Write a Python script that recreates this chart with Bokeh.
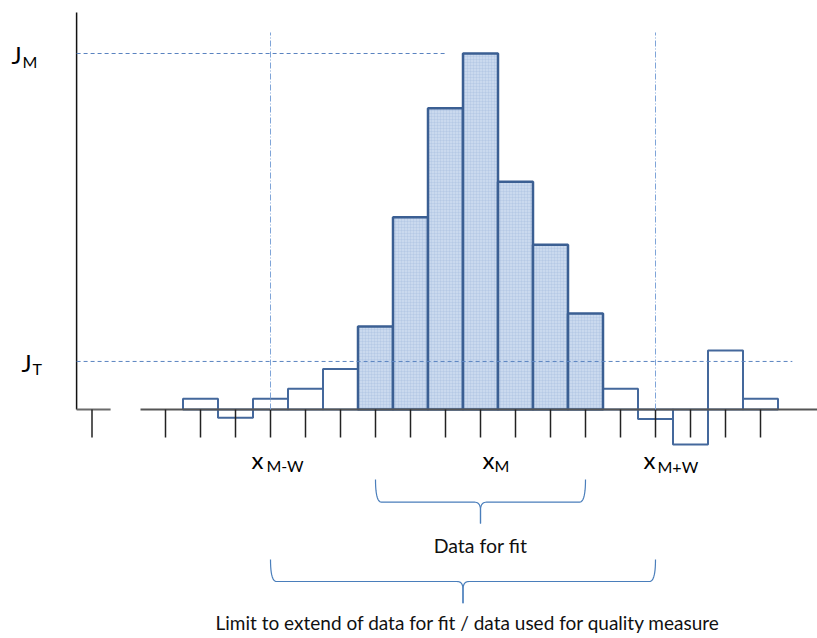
import numpy as np
from bokeh.plotting import figure
from bokeh.models import Range1d, ColumnDataSource
from bokeh.core.properties import value
from bokeh.embed import file_html
from bokeh.resources import INLINE

# ---------------- data ----------------
bins = list(range(17))                      # histogram bin index
counts = [3.0, -2.3, 3.0, 5.8, 11.4, 23.3, 54.0, 84.6, 100.0,
          64.0, 46.3, 27.0, 5.8, -2.7, -9.8, 16.6, 3.0]
fit_first, fit_last = 5, 11                 # bins used for the fit (shaded)
J_M = 100.0                                 # maximum
J_T = 13.5                                  # threshold
x_M = 8                                     # bin of maximum
x_MW_lo = 2                                 # x_{M-W}
x_MW_hi = 13                                # x_{M+W}
tick_bins = list(range(-1, 17))
extra_tick = -3.1
y_axis_x = -3.54
axis_top = 111.5

# ---------------- scales ----------------
PX_X = 35.0     # pixels per bin
PX_Y = 3.56     # pixels per J unit
W, H = 817, 638
X0_PX, Y0_PX = 200.0, 409.0     # pixel position of bin 0 / J=0

def dy(px):     # pixel distance below baseline -> data y
    return -px / PX_Y

def dx(px):
    return px / PX_X

p = figure(width=W, height=H, output_backend="svg", toolbar_location=None,
           x_range=Range1d(-X0_PX / PX_X, (W - X0_PX) / PX_X),
           y_range=Range1d((Y0_PX - H) / PX_Y, Y0_PX / PX_Y),
           x_axis_location=None, y_axis_location=None, min_border=0,
           outline_line_color=None, background_fill_color="white",
           border_fill_color="white")
p.grid.visible = False

FONT = value("Lato")

# ---------------- bars ----------------
b = np.array(bins)
c = np.array(counts)
shaded = (b >= fit_first) & (b <= fit_last)
src_plain = ColumnDataSource(dict(left=b[~shaded] - 0.5, right=b[~shaded] + 0.5,
                                  top=c[~shaded], bottom=np.zeros((~shaded).sum())))
src_fit = ColumnDataSource(dict(left=b[shaded] - 0.5, right=b[shaded] + 0.5,
                                top=c[shaded], bottom=np.zeros(shaded.sum())))
p.quad(left="left", right="right", top="top", bottom="bottom", source=src_plain,
       fill_color=None, line_color="#44689c", line_width=2)
p.quad(left="left", right="right", top="top", bottom="bottom", source=src_fit,
       fill_color="#cad9ee", hatch_pattern="+", hatch_color="#a8bfe0",
       hatch_scale=3, hatch_weight=0.6, hatch_alpha=0.6,
       line_color="#3b5f93", line_width=2.5)

# ---------------- axes / baseline ----------------
p.line([y_axis_x, y_axis_x], [0, axis_top], line_color="#111111", line_width=1.5)
p.line([y_axis_x, y_axis_x + dx(34)], [0, 0], line_color="#6b6b6b", line_width=2)
p.line([-1.714, (W - X0_PX) / PX_X], [0, 0], line_color="#555555", line_width=2)
tk = tick_bins + [extra_tick]
p.segment(x0=tk, y0=[0] * len(tk), x1=tk, y1=[dy(28)] * len(tk),
          line_color="#222222", line_width=1.5)

# ---------------- reference lines ----------------
p.line([y_axis_x, x_M - 0.97], [J_M, J_M], line_color="#5a83c0", line_width=1,
       line_dash="4 3")
p.line([y_axis_x, 16.91], [J_T, J_T], line_color="#5a83c0", line_width=1,
       line_dash="4 3")
for xv in (x_MW_lo, x_MW_hi):
    p.line([xv, xv], [0, 105.9], line_color="#7ea4d8", line_width=1,
           line_dash="6 2 1 2")

# ---------------- labels ----------------
def label(x, y, main, sub, xo, yo, sub_dx, sub_dy, size=24, sub_size=16):
    p.text(x=[x], y=[y], text=[main], x_offset=xo, y_offset=yo,
           text_font=FONT, text_font_size=value(f"{size}px"),
           text_baseline="alphabetic", text_align="left", text_color="#000000")
    p.text(x=[x], y=[y], text=[sub], x_offset=xo + sub_dx, y_offset=yo + sub_dy,
           text_font=FONT, text_font_size=value(f"{sub_size}px"),
           text_baseline="alphabetic", text_align="left", text_color="#000000")

label(y_axis_x, J_M, "J", "M", -65, 1, 11, 7)
label(y_axis_x, J_T, "J", "T", -55, 1, 11, 6)
label(x_MW_lo, 0, "x", "M-W", -19, 50, 15, 6)
label(x_M, 0, "x", "M", 2, 50, 12, 6)
label(x_MW_hi, 0, "x", "M+W", -12, 50, 14, 7)

# ---------------- braces ----------------
def quad_curve(p0, c, p1, n=12):
    t = np.linspace(0, 1, n)[:, None]
    pts = (1 - t) ** 2 * np.array(p0) + 2 * (1 - t) * t * np.array(c) + t ** 2 * np.array(p1)
    return pts

def brace(x_left, x_right, top_px, hz_px, tip_px):
    xc = (x_left + x_right) / 2.0
    for side in (-1, 1):
        xe = x_left if side < 0 else x_right
        s = -side  # direction toward center
        seg1 = quad_curve((xe, dy(top_px)), (xe, dy(hz_px)), (xe + s * dx(6), dy(hz_px)))
        seg2 = quad_curve((xc - s * dx(6), dy(hz_px)), (xc, dy(hz_px)), (xc, dy(hz_px + 8)))
        pts = np.vstack([seg1, seg2, [[xc, dy(tip_px)]]])
        p.line(pts[:, 0], pts[:, 1], line_color="#4a7ebb", line_width=1.2)
    return xc

xc1 = brace(fit_first, fit_last, 70, 92.7, 114)
xc2 = brace(x_MW_lo, x_MW_hi, 150, 172, 193.7)

p.text(x=[xc1], y=[dy(136)], text=["Data for fit"], text_font=FONT,
       text_font_size=value("19.5px"), text_align="center", text_baseline="middle",
       text_color="#111111")
p.text(x=[xc2], y=[dy(213)],
       text=["Limit to extend of data for fit / data used for quality measure"],
       x_offset=5,
       text_font=FONT, text_font_size=value("19px"), text_align="center",
       text_baseline="middle", text_color="#111111")

open("out.html", "w").write(file_html(p, INLINE))
